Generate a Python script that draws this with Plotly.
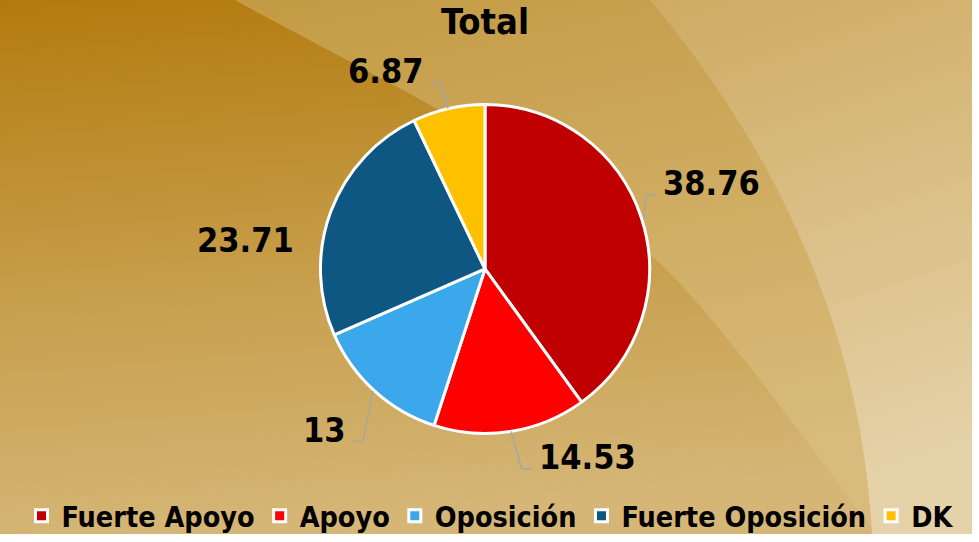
import base64
import math
import plotly.graph_objects as go

# ---------------- data ----------------
categories = ["Fuerte Apoyo", "Apoyo", "Oposición", "Fuerte Oposición", "DK"]
values = [38.76, 14.53, 13, 23.71, 6.87]
title_text = "Total"

# ---------------- style ----------------
colors = ["#C00000", "#FF0000", "#3AA8EA", "#0E5783", "#FFC000"]
W, H = 979, 542
CX, CY, R = 485, 273, 167          # pie centre / radius in pixels
FONT = "DejaVu Sans Condensed, Noto Sans, sans-serif"

# label anchor offsets (in units of R, relative to pie centre)
label_offsets = [(1.054, -0.524), (0.310, 1.143), (-0.821, 0.976), (-1.131, -0.179), (-0.357, -1.202)]
show_leader = [True, True, True, False, True]


def px(x):
    return x / W


def py(y):
    return 1 - y / H


# ---------------- background (svg image) ----------------
svg = """<svg xmlns='http://www.w3.org/2000/svg' width='972' height='542' viewBox='0 0 972 542' preserveAspectRatio='none'>
<defs>
<linearGradient id='ga' x1='0' y1='0' x2='0.15' y2='1'>
<stop offset='0' stop-color='#B37B0E'/><stop offset='0.55' stop-color='#C79E4B'/><stop offset='1' stop-color='#D5B676'/>
</linearGradient>
<linearGradient id='gb' x1='0' y1='0' x2='0.3' y2='1'>
<stop offset='0' stop-color='#C49B44'/><stop offset='1' stop-color='#D9BC7D'/>
</linearGradient>
<linearGradient id='gc' x1='0' y1='0' x2='0.2' y2='1'>
<stop offset='0' stop-color='#CFAB62'/><stop offset='1' stop-color='#E5D2A8'/>
</linearGradient>
</defs>
<rect x='0' y='0' width='972' height='542' fill='url(#ga)'/>
<path d='M235,0 C385,84 525,147 655,263 C715,316 837,491 877,542 L972,542 L972,0 Z' fill='url(#gb)'/>
<path d='M650,0 C780,156 862,342 872,542 L972,542 L972,0 Z' fill='url(#gc)'/>
</svg>"""
bg_src = "data:image/svg+xml;base64," + base64.b64encode(svg.encode()).decode()

fig = go.Figure()
fig.add_trace(go.Pie(
    labels=categories,
    values=values,
    sort=False,
    direction="clockwise",
    rotation=0,
    textinfo="none",
    hoverinfo="skip",
    marker=dict(colors=colors, line=dict(color="white", width=3)),
    domain=dict(x=[px(CX - R), px(CX + R)], y=[py(CY + R), py(CY - R)]),
))

# ---------------- data labels with leader lines ----------------
total = sum(values)
cum = 0.0
annotations = []
shapes = []
for v, (ox, oy), lead in zip(values, label_offsets, show_leader):
    mid = (cum + v / 2) / total * 2 * math.pi
    cum += v
    ax = CX + R * math.sin(mid)
    ay = CY - R * math.cos(mid)
    lx = CX + ox * R
    ly = CY + oy * R
    side = "left" if ox > 0 else "right"
    annotations.append(dict(
        x=px(lx), y=py(ly), xref="paper", yref="paper",
        text=f"{v:g}", showarrow=False, xanchor=side, yanchor="middle",
        font=dict(family=FONT, size=34, color="black", weight="bold"),
    ))
    if lead:
        bx = lx - 5 if side == "left" else lx + 5
        by = ly + 12
        ex = bx - 10 if side == "left" else bx + 10
        for (x0, y0, x1, y1) in [(ax, ay, ex, by), (ex, by, bx, by)]:
            shapes.append(dict(type="line", xref="paper", yref="paper",
                               x0=px(x0), y0=py(y0), x1=px(x1), y1=py(y1),
                               line=dict(color="#A6A6A6", width=1.5)))

fig.update_layout(
    width=W, height=H,
    margin=dict(l=0, r=0, t=0, b=0),
    paper_bgcolor="white",
    plot_bgcolor="rgba(0,0,0,0)",
    title=dict(text=title_text, x=px(CX), y=py(22), xref="paper", yref="paper",
               xanchor="center", yanchor="middle",
               font=dict(family=FONT, size=36, color="black", weight="bold")),
    legend=dict(orientation="h", x=px(490), y=py(524), xanchor="center", yanchor="middle",
                font=dict(family=FONT, size=28.5, color="black", weight="bold"),
                bgcolor="rgba(0,0,0,0)", itemclick=False, itemdoubleclick=False),
    images=[dict(source=bg_src, xref="paper", yref="paper", x=0, y=1,
                 sizex=972 / W, sizey=1, sizing="stretch", xanchor="left",
                 yanchor="top", layer="below")],
    annotations=annotations,
    shapes=shapes,
)

fig.write_html(
    "out.html",
    config={"displayModeBar": False},
    post_script=(
        "document.documentElement.style.overflow='hidden';"
        "document.body.style.margin='0';"
        "document.body.style.overflow='hidden';"
    ),
)
